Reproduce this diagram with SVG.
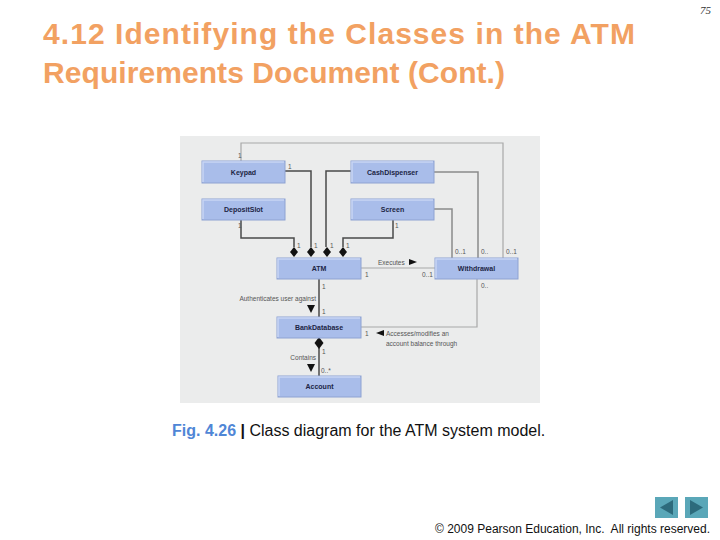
<svg xmlns="http://www.w3.org/2000/svg" width="720" height="540" viewBox="0 0 720 540">
<defs>
<style>
.title{font-family:"Liberation Sans",Arial,sans-serif;font-weight:bold;font-size:30px;fill:#f2a162}
.box{fill:#a9bdea;stroke:#8ea2d2;stroke-width:1}
.hl{stroke:#c8d5f4;stroke-width:1.5;fill:none}
.lbl{font-family:"Liberation Sans",Arial,sans-serif;font-weight:bold;font-size:7px;fill:#1c2545;text-anchor:middle}
.sm{font-family:"Liberation Sans",Arial,sans-serif;font-size:6.5px;fill:#555}
.dk{stroke:#4a4a4a;stroke-width:1.5;fill:none}
.lt{stroke:#a8a8a8;stroke-width:1.2;fill:none}
.md{stroke:#8a8a8a;stroke-width:1.5;fill:none}
.dia{fill:#111}
.tri{fill:#111}
</style>
</defs>
<rect width="720" height="540" fill="#ffffff"/>
<text class="title" x="43" y="44" textLength="592" lengthAdjust="spacing">4.12 Identifying the Classes in the ATM</text>
<text class="title" x="43" y="83" textLength="462" lengthAdjust="spacing">Requirements Document (Cont.)</text>
<text x="700" y="14" font-family="Liberation Serif,serif" font-style="italic" font-size="11" fill="#333">75</text>

<rect x="180" y="136" width="360" height="267" fill="#ebecec"/>

<g id="connectors">
  <path class="lt" d="M241 161 V143 H503 V258"/>
  <path class="dk" d="M285 171 H311 V247"/>
  <path class="dk" d="M351 171 H326 V247"/>
  <path class="md" d="M434 172 H478 V258"/>
  <path class="dk" d="M241 220 V238 H294 V247"/>
  <path class="dk" d="M393 220 V238 H343 V247"/>
  <path class="md" d="M434 209 H452 V258"/>
  <path class="dia" d="M294 247 l4 5 l-4 5 l-4 -5 z"/>
  <path class="dia" d="M311 247 l4 5 l-4 5 l-4 -5 z"/>
  <path class="dia" d="M327 247 l4 5 l-4 5 l-4 -5 z"/>
  <path class="dia" d="M343 247 l4 5 l-4 5 l-4 -5 z"/>
  <path class="lt" d="M361 268 H435"/>
  <path class="tri" d="M409 259 l8 3 l-8 3 z"/>
  <path class="dk" d="M319 279 V317"/>
  <path class="tri" d="M307 305 h8 l-4 8 z"/>
  <path class="lt" d="M477 279 V327 H361"/>
  <path class="tri" d="M384 330 l-8 3 l8 3 z"/>
  <path class="dk" d="M319 348 V376"/>
  <path class="dia" d="M319 337 l4.5 6 l-4.5 6 l-4.5 -6 z"/>
  <path class="tri" d="M307 364 h8 l-4 8 z"/>

  <g class="sm">
    <text x="238" y="158">1</text>
    <text x="288" y="169">1</text>
    <text x="238" y="228">1</text>
    <text x="395" y="228">1</text>
    <text x="297" y="248">1</text>
    <text x="314" y="248">1</text>
    <text x="330" y="248">1</text>
    <text x="346" y="248">1</text>
    <text x="455" y="254">0..1</text>
    <text x="481" y="254">0..</text>
    <text x="506" y="254">0..1</text>
    <text x="365" y="277">1</text>
    <text x="422" y="277">0..1</text>
    <text x="481" y="288">0..</text>
    <text x="322" y="289">1</text>
    <text x="322" y="314">1</text>
    <text x="365" y="336">1</text>
    <text x="322" y="354">1</text>
    <text x="321" y="373">0..*</text>
    <text x="378" y="265">Executes</text>
    <text x="316" y="301" text-anchor="end">Authenticates user against</text>
    <text x="386" y="336">Accesses/modifies an</text>
    <text x="386" y="346">account balance through</text>
    <text x="316" y="360" text-anchor="end">Contains</text>
  </g>
</g>

<g id="keypad">
  <rect class="box" x="202" y="161" width="83" height="22"/>
  <path class="hl" d="M203 182 V162 H284"/>
  <text class="lbl" x="243.5" y="174.5">Keypad</text>
</g>
<g id="cashdispenser">
  <rect class="box" x="351" y="161" width="83" height="22"/>
  <path class="hl" d="M352 182 V162 H433"/>
  <text class="lbl" x="392.5" y="174.5">CashDispenser</text>
</g>
<g id="depositslot">
  <rect class="box" x="202" y="199" width="83" height="21"/>
  <path class="hl" d="M203 219 V200 H284"/>
  <text class="lbl" x="243.5" y="212">DepositSlot</text>
</g>
<g id="screen">
  <rect class="box" x="351" y="199" width="83" height="21"/>
  <path class="hl" d="M352 219 V200 H433"/>
  <text class="lbl" x="392.5" y="212">Screen</text>
</g>
<g id="atm">
  <rect class="box" x="277" y="258" width="84" height="21"/>
  <path class="hl" d="M278 278 V259 H360"/>
  <text class="lbl" x="319" y="271">ATM</text>
</g>
<g id="withdrawal">
  <rect class="box" x="435" y="258" width="83" height="21"/>
  <path class="hl" d="M436 278 V259 H517"/>
  <text class="lbl" x="476.5" y="271">Withdrawal</text>
</g>
<g id="bankdatabase">
  <rect class="box" x="277" y="317" width="84" height="21"/>
  <path class="hl" d="M278 337 V318 H360"/>
  <text class="lbl" x="319" y="330">BankDatabase</text>
</g>
<g id="account">
  <rect class="box" x="278" y="376" width="83" height="21"/>
  <path class="hl" d="M279 396 V377 H360"/>
  <text class="lbl" x="319.5" y="389">Account</text>
</g>

<text x="172" y="436" font-family="Liberation Sans,Arial,sans-serif" font-size="16" fill="#111"><tspan fill="#4f86d6" font-weight="bold">Fig. 4.26</tspan><tspan font-weight="bold"> | </tspan>Class diagram for the ATM system model.</text>

<g id="nav-prev">
  <rect x="655" y="497" width="23" height="21" fill="#5aa7b8"/>
  <path d="M660 507.5 L673 500 V515 Z" fill="#2d6b7c"/>
</g>
<g id="nav-next">
  <rect x="685" y="497" width="23" height="21" fill="#5aa7b8"/>
  <path d="M703 507.5 L690 500 V515 Z" fill="#2d6b7c"/>
</g>
<text x="435" y="533" font-family="Liberation Sans,Arial,sans-serif" font-size="12" fill="#111" xml:space="preserve">© 2009 Pearson Education, Inc.  All rights reserved.</text>
</svg>
